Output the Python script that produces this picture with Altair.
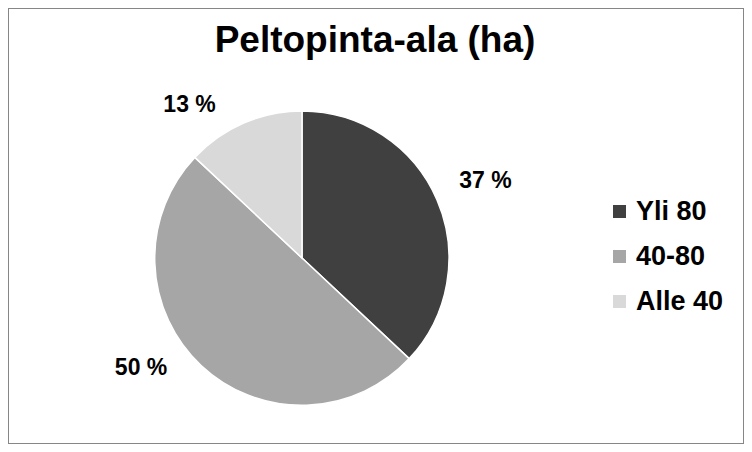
import altair as alt
import pandas as pd

categories = ["Yli 80", "40-80", "Alle 40"]
values = [37, 50, 13]
labels = ["37 %", "50 %", "13 %"]
colors = ["#404040", "#a6a6a6", "#d9d9d9"]

df = pd.DataFrame({"cat": categories, "val": values, "label": labels, "idx": list(range(len(categories)))})

FONT = "Liberation Sans"
CX, CY, R = 294, 250, 147
TWO_PI = 6.283185307179586

base = alt.Chart(df)

pie = base.mark_arc(outerRadius=R, stroke="white", strokeWidth=1.5).encode(
    theta=alt.Theta("val:Q", stack=True),
    order=alt.Order("idx:Q"),
    color=alt.Color(
        "cat:N",
        scale=alt.Scale(domain=categories, range=colors),
        sort=categories,
        legend=alt.Legend(
            title=None,
            orient="none",
            legendX=598,
            legendY=190,
            symbolType="square",
            symbolSize=169,
            symbolStrokeWidth=0,
            labelFont=FONT,
            labelFontSize=27,
            labelFontWeight="bold",
            labelColor="black",
            labelOffset=3,
            rowPadding=17,
            padding=0,
        ),
    ),
    x=alt.value(CX),
    y=alt.value(CY),
)


def label_layer(cat, dx, dy):
    return base.transform_stack(
        stack="val", groupby=[], as_=["v0", "v1"], sort=[alt.SortField("idx")]
    ).transform_calculate(
        mid="(datum.v0 + datum.v1) / 2"
    ).transform_filter(alt.datum.cat == cat).mark_text(
        font=FONT, fontSize=23, fontWeight="bold", color="black",
        align="center", baseline="middle", dx=dx, dy=dy,
    ).encode(
        theta=alt.Theta("mid:Q", scale=alt.Scale(domain=[0, 100], range=[0, TWO_PI])),
        radius=alt.value(200),
        text="label:N",
        x=alt.value(CX),
        y=alt.value(CY),
    )


title = alt.Chart(pd.DataFrame({"t": ["Peltopinta-ala (ha)"]})).mark_text(
    font=FONT, fontSize=37, fontWeight="bold", color="black", align="center", baseline="middle"
).encode(text="t:N", x=alt.value(367), y=alt.value(33))

chart = alt.layer(
    pie,
    label_layer("Yli 80", 0, 2),
    label_layer("40-80", -24, -36),
    label_layer("Alle 40", -33, 31),
    title,
).resolve_scale(theta="independent").properties(
    width=736, height=436, autosize=alt.AutoSizeParams(type="none"), padding=0,
    background="white",
).configure_view(stroke="#868686", strokeWidth=2)

chart.save("out.html", embed_options={"renderer": "svg", "actions": False})
